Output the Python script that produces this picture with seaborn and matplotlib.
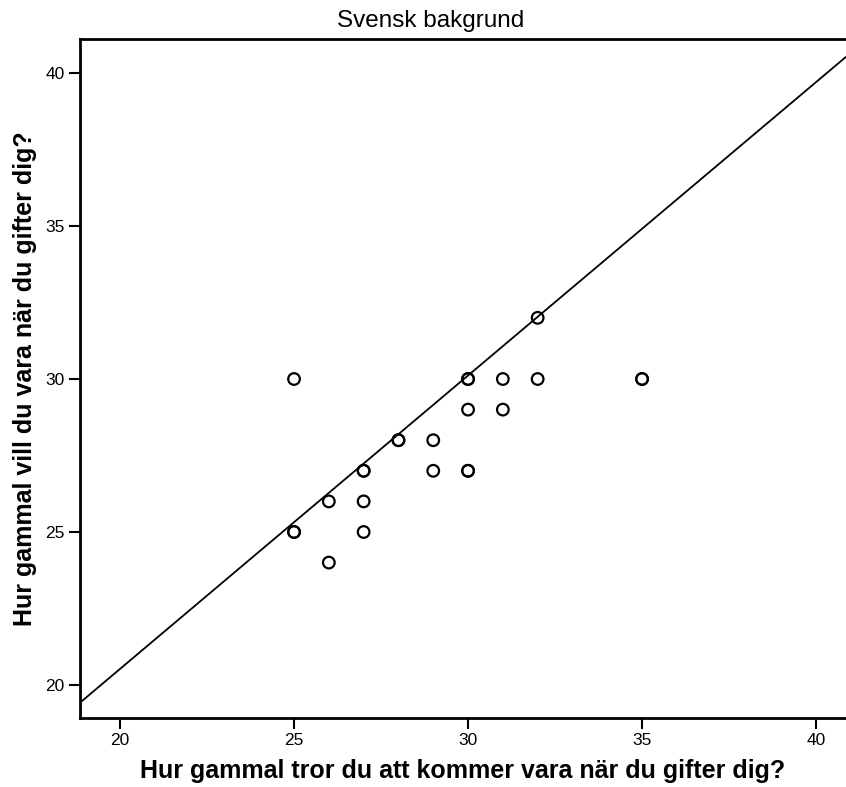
import matplotlib
matplotlib.use('Agg')
import matplotlib.pyplot as plt
import pandas as pd
import seaborn as sns

# Data (repeated rows = overlapping cases)
x_ages = [25, 30, 30, 31, 32, 35, 35, 32, 30, 31, 28, 28, 29, 27, 27, 29,
          30, 30, 26, 27, 25, 25, 27, 26]
y_ages = [30, 30, 30, 30, 30, 30, 30, 32, 29, 29, 28, 28, 28, 27, 27, 27,
          27, 27, 26, 26, 25, 25, 25, 24]
fit_x = [18.88, 40.86]
fit_y = [19.45, 40.53]
ticks = [20, 25, 30, 35, 40]

df = pd.DataFrame({'tror': x_ages, 'vill': y_ages})

sns.set_style('white')
plt.rcParams['font.family'] = ['Liberation Sans', 'DejaVu Sans']
plt.rcParams['text.color'] = 'black'
plt.rcParams['axes.labelcolor'] = 'black'

fig = plt.figure(figsize=(8.46, 7.87), dpi=100)
ax = fig.add_axes([80 / 846, 69 / 787, 766 / 846, 679.5 / 787])

sns.scatterplot(data=df, x='tror', y='vill', ax=ax, marker='o', s=70,
                facecolor='none', edgecolor='black', linewidth=1.6, legend=False)
ax.plot(fit_x, fit_y, color='black', lw=1.3)

ax.set_xlim(18.85, 40.86)
ax.set_ylim(18.92, 41.13)
ax.set_xticks(ticks)
ax.set_yticks(ticks)
ax.tick_params(axis='both', direction='out', length=8, width=1.5,
               labelsize=12.5, pad=3, colors='black', left=True, bottom=True)

for side in ['left', 'bottom', 'top']:
    ax.spines[side].set_visible(True)
    ax.spines[side].set_linewidth(2)
    ax.spines[side].set_color('black')
ax.spines['right'].set_visible(False)

ax.set_xlabel('Hur gammal tror du att kommer vara när du gifter dig?',
              fontsize=18, fontweight='bold', labelpad=8, color='black')
ax.set_ylabel('Hur gammal vill du vara när du gifter dig?',
              fontsize=18, fontweight='bold', labelpad=6, color='black')
fig.text(431 / 846, 1 - 21 / 787, 'Svensk bakgrund', ha='center', va='center',
         fontsize=17.5, color='black')

fig.savefig('out.png', dpi=100)
